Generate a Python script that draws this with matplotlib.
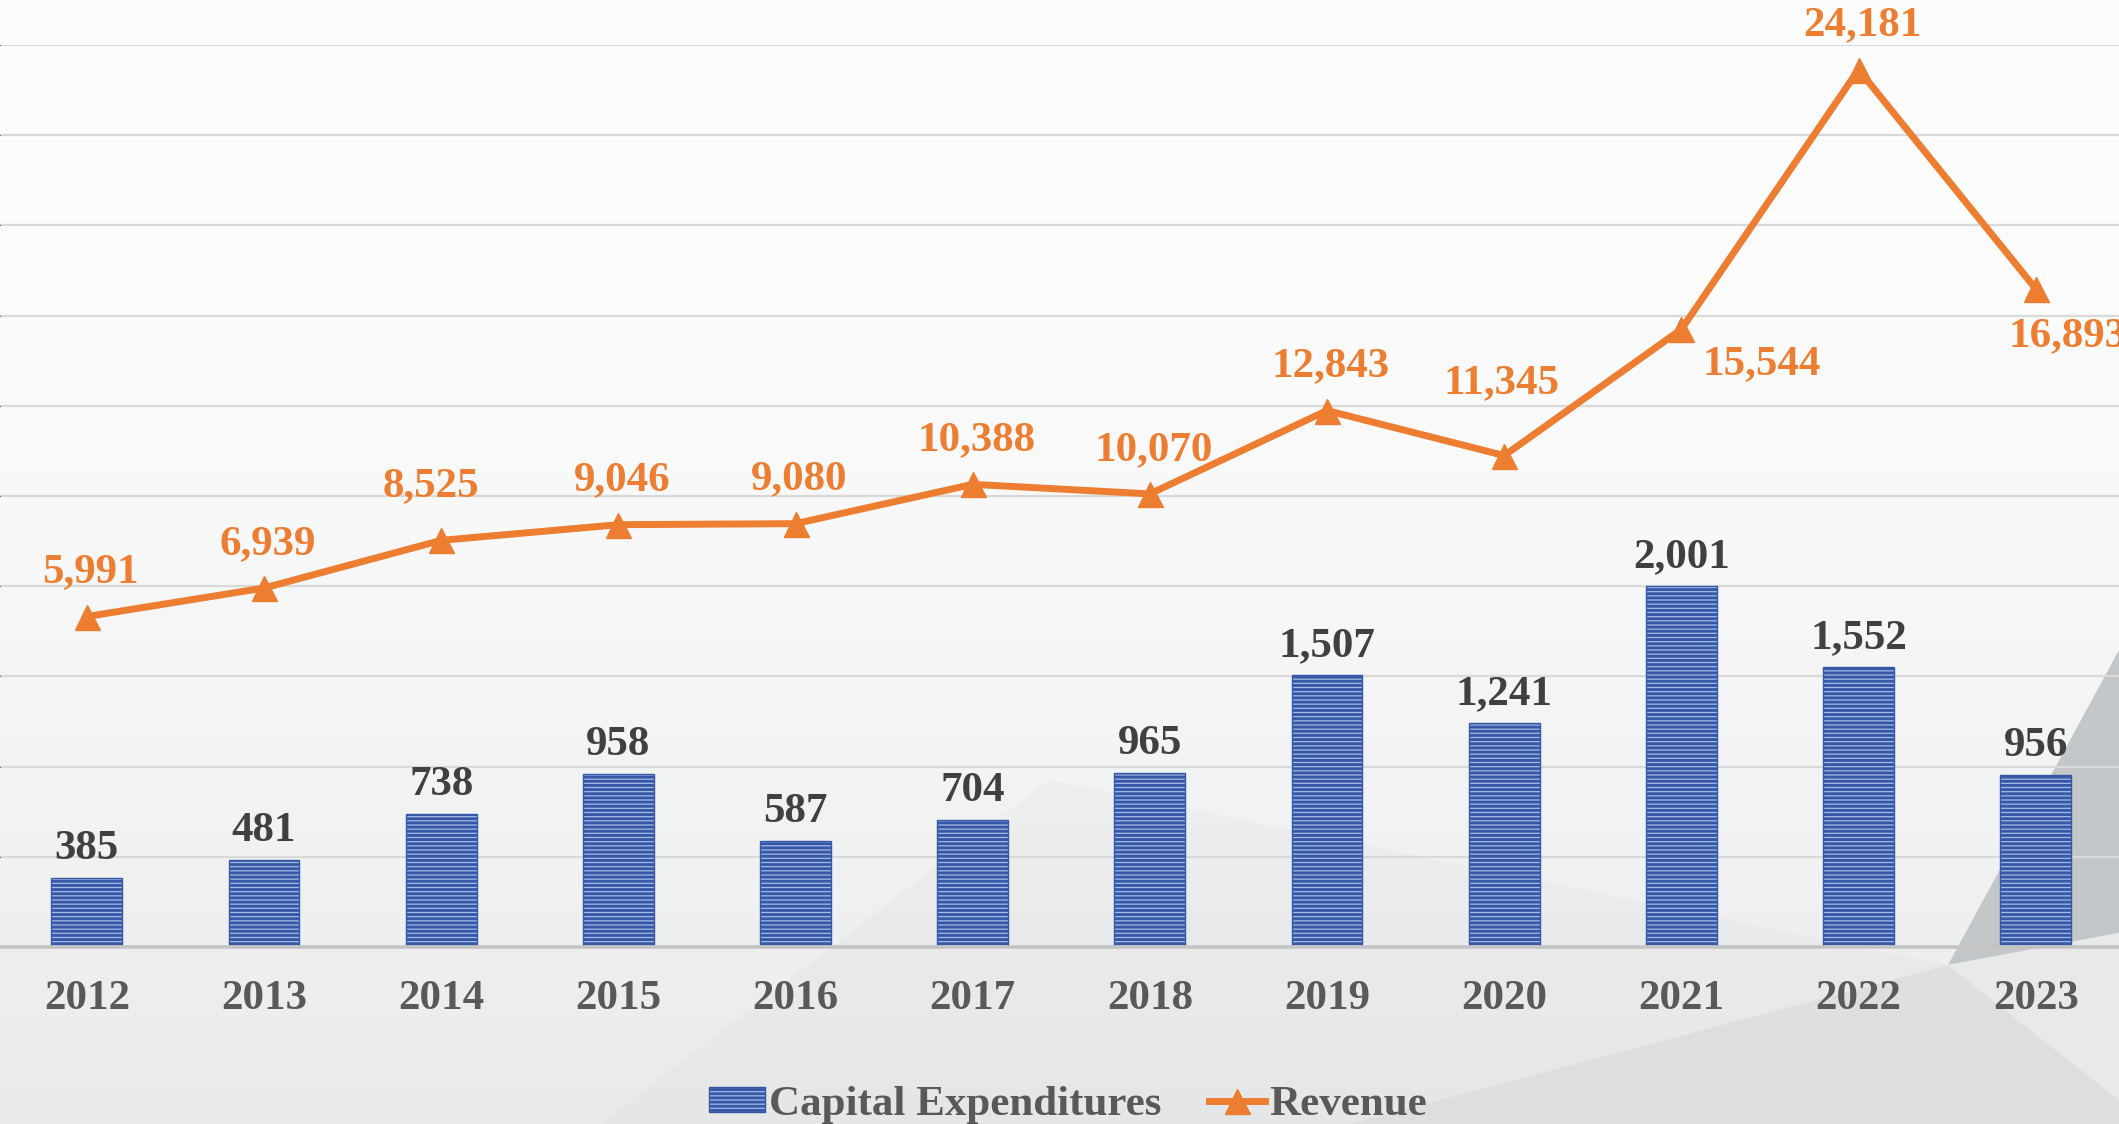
import matplotlib
matplotlib.use('Agg')

import numpy as np
import matplotlib.pyplot as plt
from matplotlib.patches import Polygon, Patch
from matplotlib.lines import Line2D

# --- 데이터 ---
years = ['2012', '2013', '2014', '2015', '2016', '2017',
         '2018', '2019', '2020', '2021', '2022', '2023']
capex = [385, 481, 738, 958, 587, 704, 965, 1507, 1241, 2001, 1552, 956]
revenue = [5991, 6939, 8525, 9046, 9080, 10388, 10070, 12843, 11345, 15544, 24181, 16893]

# --- 스타일 ---
W, H, DPI = 2119, 1124, 100
COLOR_BAR_FACE = '#A9BBE0'
COLOR_BAR_LINE = '#3558A8'
COLOR_LINE = '#ED7D31'
COLOR_BAR_LABEL = '#404040'
COLOR_TICK = '#595959'
FONT = ['Liberation Serif', 'DejaVu Serif']
FS = 31
PX = 72 / DPI  # px -> pt

# revenue 라벨 위치 (px, 라벨 중심 기준)
rev_offsets = {2: (-10, 58), 8: (-3, 76), 9: (80, -31), 11: (32, -43)}
rev_default = (4, 48)

plt.rcParams['font.family'] = FONT
plt.rcParams['font.weight'] = 'bold'
plt.rcParams['hatch.linewidth'] = 2.1

fig = plt.figure(figsize=(W / DPI, H / DPI), dpi=DPI)

# 배경 (그라데이션 + 회색 도형)
bg = fig.add_axes([0, 0, 1, 1], zorder=0)
grad = np.linspace(0, 1, 256)[:, None] ** 1.8
top, bot = np.array([253, 253, 253]) / 255, np.array([233, 234, 234]) / 255
img = top[None, None, :] * (1 - grad[..., None]) + bot[None, None, :] * grad[..., None]
img = np.repeat(img, 4, axis=1)
bg.imshow(img, extent=[0, W, H, 0], aspect='auto')
bg.add_patch(Polygon([(1050, 780), (1948, 965), (2119, 1100), (2119, H), (600, H)],
                     closed=True, color='#D8DADB', alpha=0.2, lw=0))
bg.add_patch(Polygon([(1948, 965), (2119, 1100), (2119, H), (1350, H)],
                     closed=True, color='#D0D2D3', alpha=0.4, lw=0))
bg.add_patch(Polygon([(1948, 965), (2119, 650), (2119, 933)],
                     closed=True, color='#C4C7C9', lw=0))
bg.add_patch(Polygon([(1948, 965), (2119, 933), (2119, 1100)],
                     closed=True, color='#E8E9E9', lw=0))
bg.set_xlim(0, W)
bg.set_ylim(H, 0)
bg.axis('off')

# 메인 축
ax = fig.add_axes([0, 1 - 947 / H, 1, 902 / H], zorder=1)
ax.patch.set_alpha(0)
x = np.arange(len(years))

bars = ax.bar(x, capex, width=0.4, color=COLOR_BAR_FACE, edgecolor=COLOR_BAR_LINE,
              linewidth=1, hatch='----', zorder=3)
for xi, v in zip(x, capex):
    ax.annotate(f'{v:,}', (xi, v), xytext=(0, 19 * PX), textcoords='offset points',
                ha='center', va='baseline', fontsize=FS, fontweight='bold',
                color=COLOR_BAR_LABEL, zorder=5)

ax.set_xlim(-0.49, 11.47)
ax.set_ylim(0, 5000)
ax.set_yticks(np.arange(0, 5001, 500))
ax.grid(axis='y', color='#D9D9D9', linewidth=1.6, zorder=0)
ax.set_axisbelow(True)
for s in ['top', 'left', 'right']:
    ax.spines[s].set_visible(False)
ax.spines['bottom'].set_color('#C4C4C4')
ax.spines['bottom'].set_linewidth(2.6)
ax.spines['bottom'].set_zorder(4)
ax.tick_params(axis='y', left=False, labelleft=False)
ax.tick_params(axis='x', length=0, pad=24, labelsize=FS, labelcolor=COLOR_TICK)
ax.set_xticks(x)
ax.set_xticklabels(years, fontweight='bold')

# 매출 라인 (보조 축)
ax2 = ax.twinx()
ax2.set_ylim(-5000, 25000)
ax2.plot(x, revenue, color=COLOR_LINE, linewidth=5, marker='^', markersize=18,
         zorder=4)
for i, (xi, v) in enumerate(zip(x, revenue)):
    dx, dy = rev_offsets.get(i, rev_default)
    ax2.annotate(f'{v:,}', (xi, v), xytext=(dx * PX, (dy - 14) * PX),
                 textcoords='offset points', ha='center', va='baseline',
                 fontsize=FS, fontweight='bold', color=COLOR_LINE)
ax2.axis('off')

# 범례
handles = [Patch(facecolor=COLOR_BAR_FACE, edgecolor=COLOR_BAR_LINE, hatch='----'),
           Line2D([0], [0], color=COLOR_LINE, linewidth=5, marker='^', markersize=18)]
fig.legend(handles, ['Capital Expenditures', 'Revenue'], loc='center',
           bbox_to_anchor=(0.504, 1 - 1105 / H), ncol=2, frameon=False,
           prop={'family': FONT, 'weight': 'bold', 'size': FS},
           labelcolor=COLOR_TICK, handlelength=1.3, handleheight=0.5,
           handletextpad=0.1, columnspacing=1.1)

fig.savefig('out.png', dpi=DPI)
plt.close(fig)
